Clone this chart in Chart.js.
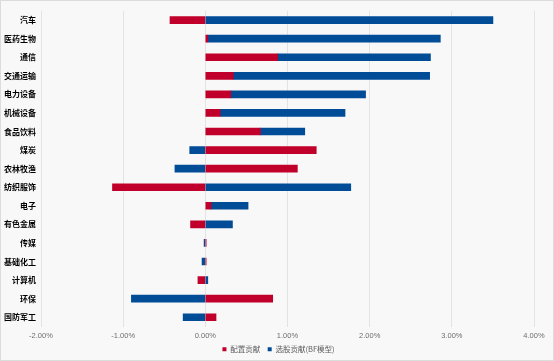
<!DOCTYPE html>
<html>
<head>
<meta charset="utf-8">
<script src="https://cdn.jsdelivr.net/npm/chart.js@4"></script>
<style>
  body { margin: 0; background: #f8f8f8; }
  #box { width: 554px; height: 361px; box-sizing: border-box; border: 1px solid #dcdcdc; background: #f8f8f8; }
  #wrap { width: 552px; height: 359px; }
</style>
</head>
<body>
<div id="box"><div id="wrap"><canvas id="grafica"></canvas></div></div>
<script>
// industrias y contribuciones (%)
const categorias = ['汽车', '医药生物', '通信', '交通运输', '电力设备', '机械设备', '食品饮料', '煤炭', '农林牧渔', '纺织服饰', '电子', '有色金属', '传媒', '基础化工', '计算机', '环保', '国防军工'];
const configuracion = [-0.43, 0.03, 0.88, 0.34, 0.31, 0.18, 0.67, 1.35, 1.12, -1.13, 0.07, -0.18, 0.01, 0.01, -0.09, 0.82, 0.13];
const seleccion = [3.50, 2.83, 1.86, 2.39, 1.64, 1.52, 0.54, -0.19, -0.37, 1.77, 0.45, 0.33, -0.015, -0.04, 0.03, -0.90, -0.27];
const ticksX = [-2, -1, 0, 1, 2, 3, 4];

const graficaIndicador = document.getElementById('grafica');

// mueve la leyenda un poco a la derecha, como en el original
const moverLeyenda = {
  id: 'moverLeyenda',
  afterLayout: (chart) => {
    if (chart.legend) {
      chart.legend.left += 11;
      chart.legend.right += 11;
    }
  }
};

const config = {
  type: 'bar',
  data: {
    labels: categorias,
    datasets: [
      {
        label: '配置贡献',
        data: configuracion,
        backgroundColor: '#c0002a',
        barThickness: 7
      },
      {
        label: '选股贡献(BF模型)',
        data: seleccion,
        backgroundColor: '#004c97',
        barThickness: 7
      }
    ]
  },
  options: {
    indexAxis: 'y',
    responsive: true,
    maintainAspectRatio: false,
    animation: false,
    layout: { padding: { top: 6, right: 19, bottom: -3, left: 0 } },
    scales: {
      x: {
        stacked: true,
        min: ticksX[0],
        max: ticksX[ticksX.length - 1],
        afterBuildTicks: (axis) => { axis.ticks = ticksX.map((v) => ({ value: v })); },
        grid: { color: '#e3e3e3', drawTicks: false },
        border: { display: false },
        ticks: {
          padding: 5,
          color: '#6e6e6e',
          font: { family: 'Liberation Sans', size: 7.5 },
          callback: (v) => v.toFixed(2) + '%'
        }
      },
      y: {
        stacked: true,
        grid: { display: false, drawTicks: false },
        border: { display: false },
        afterFit: (axis) => { axis.width = 40; },
        ticks: {
          padding: 5,
          color: '#000',
          font: { family: 'Noto Sans CJK SC', size: 8, weight: 'bold' }
        }
      }
    },
    plugins: {
      tooltip: { enabled: false },
      legend: {
        position: 'bottom',
        labels: {
          boxWidth: 4,
          boxHeight: 4,
          padding: 0,
          color: '#595959',
          font: { family: 'Noto Sans CJK SC', size: 7.5 },
          // espacio entre las dos entradas
          generateLabels: (chart) => Chart.defaults.plugins.legend.labels.generateLabels(chart)
            .map((item, i) => (i === 0 ? { ...item, text: item.text + '\u2002\u2002' } : item))
        }
      }
    }
  },
  plugins: [moverLeyenda]
};

new Chart(graficaIndicador, config);
</script>
</body>
</html>
